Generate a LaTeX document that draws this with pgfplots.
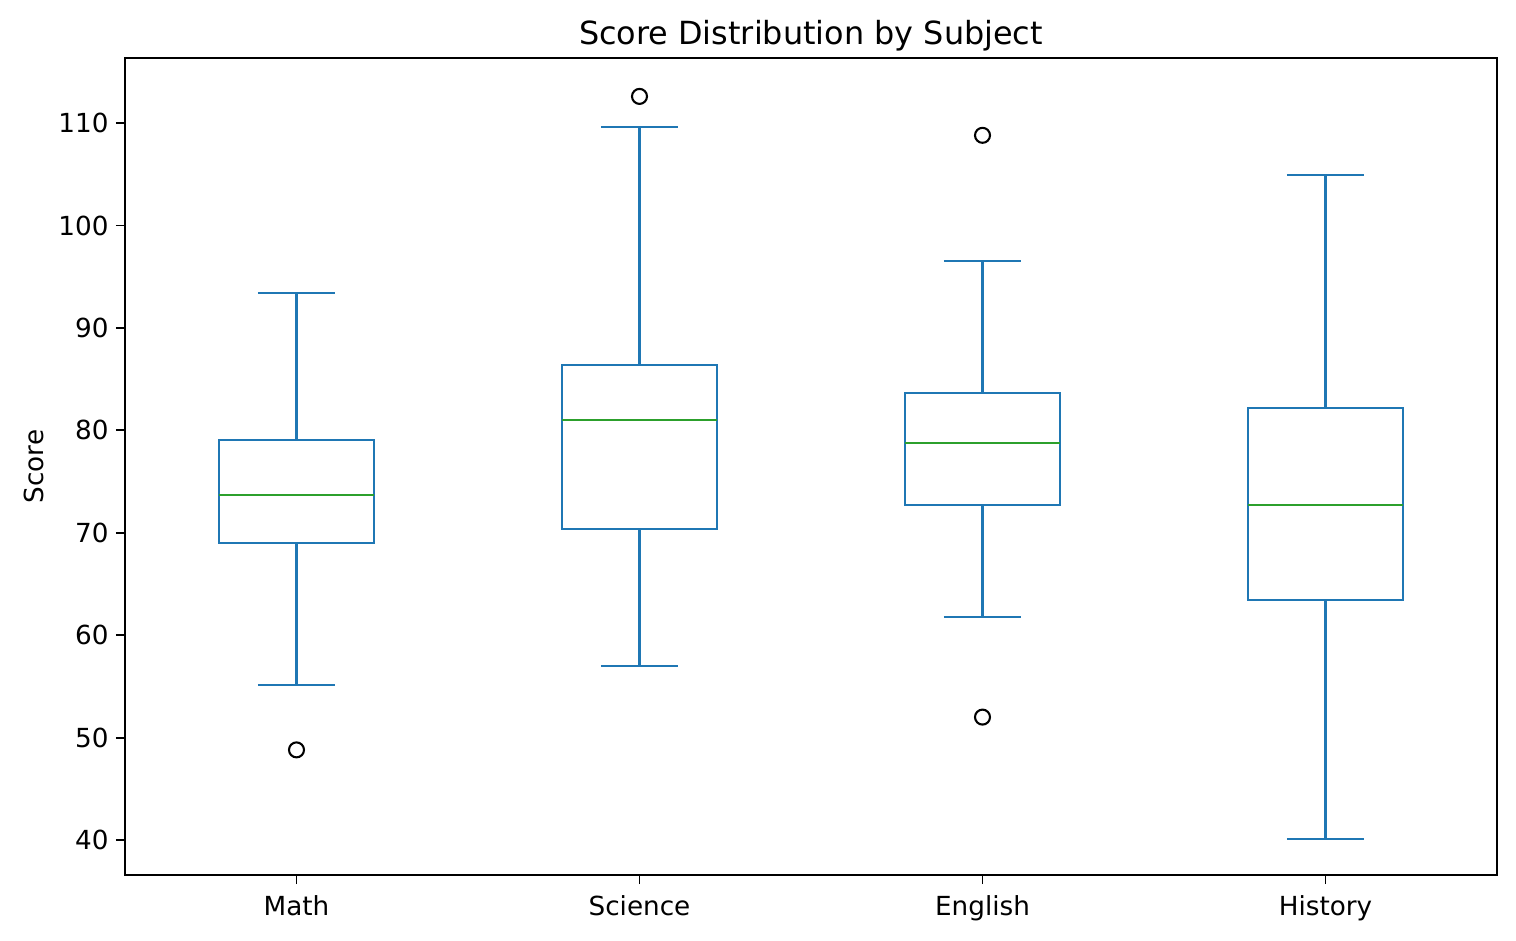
\documentclass[border=0pt]{standalone}
\usepackage{fontspec}
\setmainfont{DejaVu Sans}
\usepackage{pgfplots}
\pgfplotsset{compat=1.18}
\usepgfplotslibrary{statistics}
\definecolor{c1}{HTML}{1F77B4}
\definecolor{c2}{HTML}{2CA02C}
\begin{document}
\begin{tikzpicture}
\begin{axis}[
  boxplot/draw direction=y,
  scale only axis, width=658.6pt, height=392.2pt,
  xmin=0.5, xmax=4.5, ymin=36.58, ymax=116.35,
  xtick={1,2,3,4}, xticklabels={Math,Science,English,History},
  ytick={40,50,60,70,80,90,100,110},
  tick pos=left, tick align=outside,
  major tick length=4.4pt,
  axis line style={line width=0.9pt},
  every tick/.append style={black, line width=0.9pt},
  /pgf/number format/assume math mode=true,
  tick label style={font=\fontsize{12.6}{14}\selectfont},
  xticklabel style={yshift=-2pt},
  ylabel={Score}, ylabel style={font=\fontsize{12.6}{14}\selectfont},
  title={Score Distribution by Subject},
  title style={font=\fontsize{15.3}{18}\selectfont, at={(0.5,1)}, anchor=south, yshift=-6pt},
]
\addplot[draw=c1, line width=1pt, boxplot prepared={draw position=1, lower whisker=55.1, lower quartile=69.0, median=73.7, upper quartile=79.05, upper whisker=93.4, box extend=0.45, whisker extend=0.225, every median/.style={draw=c2}}] coordinates {};
\addplot[draw=c1, line width=1pt, boxplot prepared={draw position=2, lower whisker=57.0, lower quartile=70.4, median=81.0, upper quartile=86.4, upper whisker=109.6, box extend=0.45, whisker extend=0.225, every median/.style={draw=c2}}] coordinates {};
\addplot[draw=c1, line width=1pt, boxplot prepared={draw position=3, lower whisker=61.8, lower quartile=72.7, median=78.8, upper quartile=83.6, upper whisker=96.5, box extend=0.45, whisker extend=0.225, every median/.style={draw=c2}}] coordinates {};
\addplot[draw=c1, line width=1pt, boxplot prepared={draw position=4, lower whisker=40.1, lower quartile=63.4, median=72.7, upper quartile=82.2, upper whisker=104.9, box extend=0.45, whisker extend=0.225, every median/.style={draw=c2}}] coordinates {};
\addplot[only marks, mark=o, mark size=3.6pt, draw=black, line width=1pt] coordinates {(1,48.8) (2,112.6) (3,108.8) (3,52.0)};
\end{axis}
\pgfresetboundingbox
\path ([shift={(-60pt,-31.2pt)}]current axis.south west) rectangle ([shift={(9.12pt,27.84pt)}]current axis.north east);
\end{tikzpicture}
\end{document}
